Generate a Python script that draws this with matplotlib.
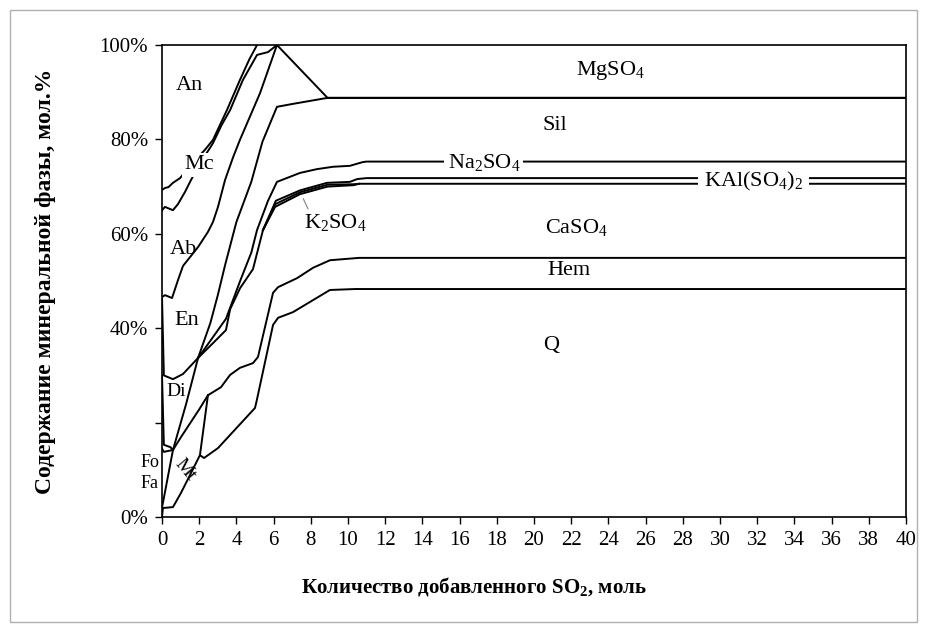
import matplotlib
matplotlib.use('Agg')
import matplotlib.pyplot as plt
from matplotlib.patches import Rectangle

plt.rcParams['font.family'] = ['Liberation Serif', 'DejaVu Serif']
plt.rcParams['mathtext.fontset'] = 'custom'
plt.rcParams['mathtext.rm'] = 'Liberation Serif'
plt.rcParams['mathtext.it'] = 'Liberation Serif:italic'
plt.rcParams['mathtext.bf'] = 'Liberation Serif:bold'

# phase boundaries: cumulative mol.% against added SO2 (mol)
q_x = [0, 0.05, 0.59, 1.02, 2.04, 2.26, 3.01, 5.0, 5.1, 5.97, 6.24, 7.04, 9.03, 10.4, 40]
q_y = [0, 1.9, 2.1, 5.1, 13.1, 12.5, 14.6, 23.1, 24.8, 40.7, 42.2, 43.4, 48.1, 48.3, 48.3]

hem_x = [2.04, 2.47, 3.17, 3.66, 4.19, 4.89, 5.16, 5.97, 6.24, 7.26, 8.12, 9.03, 10.6, 40]
hem_y = [13.1, 25.8, 27.5, 30.1, 31.6, 32.6, 33.9, 47.5, 48.7, 50.6, 52.8, 54.4, 54.9, 54.9]

mt_x = [0, 0.05, 0.59, 1.0, 1.5, 2.0, 2.47]
mt_y = [2.0, 3.0, 14.2, 16.8, 19.8, 22.8, 25.8]

fa_x = [0, 0.1, 0.59]
fa_y = [14.5, 13.8, 14.2]

fo_x = [0, 0.1, 0.45, 0.59]
fo_y = [30.0, 15.3, 14.8, 14.2]

di_x = [0, 0.1, 0.59, 1.13, 1.94]
di_y = [46.6, 30.0, 29.2, 30.3, 33.7]

# rising edge of the new phases, Fa point -> Di kink
new_x = [0.59, 1.3, 1.94]
new_y = [14.2, 24.0, 33.7]

sil_x = [1.94, 2.6, 3.0, 3.4, 4.0, 4.8, 5.4, 6.18, 7.0, 8.9, 40]
sil_y = [33.7, 41.1, 47.0, 53.5, 62.5, 71.0, 79.5, 86.9, 87.5, 88.8, 88.8]

na_x = [1.94, 2.63, 3.44, 4.2, 4.8, 5.11, 5.7, 6.18, 7.42, 8.33, 9.19, 10.1, 10.8, 11.0, 40]
na_y = [33.7, 37.5, 42.0, 50.0, 56.0, 60.8, 67.0, 71.0, 72.9, 73.7, 74.2, 74.4, 75.2, 75.3, 75.3]

caso4_x = [1.94, 2.63, 3.44, 3.66, 4.2, 4.89, 5.43, 6.08, 7.42, 8.9, 10.3, 10.6, 40]
caso4_y = [33.7, 36.4, 39.6, 44.0, 48.5, 52.5, 60.8, 65.7, 68.4, 70.0, 70.3, 70.6, 70.6]

k2so4_x = [5.43, 6.1, 7.42, 8.9, 10.3, 10.6]
k2so4_y = [60.8, 66.3, 68.8, 70.4, 70.5, 70.6]

kal_x = [5.43, 6.12, 7.42, 8.87, 10.1, 10.5, 11.0, 40]
kal_y = [60.8, 67.0, 69.2, 70.8, 71.0, 71.6, 71.8, 71.8]

ab_x = [0, 0.16, 0.54, 0.86, 1.13, 1.94, 2.47, 2.74, 3.01, 3.39, 3.82, 4.19, 5.27, 6.18, 8.9, 40]
ab_y = [46.6, 47.0, 46.4, 50.2, 53.2, 57.2, 60.4, 62.5, 65.7, 71.4, 76.2, 79.9, 89.8, 100, 88.8, 88.8]

mc_x = [0, 0.16, 0.59, 0.86, 1.24, 1.56, 2.05, 2.58, 2.74, 3.2, 3.66, 4.35, 5.11, 5.7, 6.18]
mc_y = [65.0, 65.7, 65.0, 66.3, 68.9, 71.4, 75.0, 78.2, 79.2, 83.0, 86.2, 92.6, 97.9, 98.5, 100]

an_x = [0, 0.16, 0.35, 0.59, 0.97, 1.6, 2.31, 2.74, 3.49, 4.19, 4.7, 5.11]
an_y = [69.3, 69.7, 69.9, 70.8, 71.8, 74.8, 77.8, 79.9, 86.2, 92.6, 97.0, 100]

boundaries = [
    (q_x, q_y), (hem_x, hem_y), (mt_x, mt_y), (fa_x, fa_y), (fo_x, fo_y),
    (di_x, di_y), (new_x, new_y), (sil_x, sil_y), (na_x, na_y),
    (caso4_x, caso4_y), (k2so4_x, k2so4_y), (kal_x, kal_y),
    (ab_x, ab_y), (mc_x, mc_y), (an_x, an_y),
]

fig = plt.figure(figsize=(9.25, 6.32), dpi=100)
ax = fig.add_axes([162 / 925, 1 - 517 / 632, 744 / 925, 472 / 632])

for bx, by in boundaries:
    ax.plot(bx, by, color='black', lw=1.4, solid_joinstyle='round', zorder=2)

ax.set_xlim(0, 40)
ax.set_ylim(0, 100)
ax.set_xticks(range(0, 41, 2))
ax.set_yticks([0, 20, 40, 60, 80, 100])
ax.set_yticklabels(['0%', '', '40%', '60%', '80%', '100%'])
ax.tick_params(axis='both', direction='out', length=5, width=1, labelsize=15, pad=5)
for s in ax.spines.values():
    s.set_linewidth(1.2)

ax.set_xlabel('Количество добавленного SO$_\\mathbf{2}$, моль', fontsize=15,
              fontweight='bold')
ax.xaxis.set_label_coords(0.419, -0.122)
ax.set_ylabel('Содержание минеральной фазы, мол.%', fontsize=17,
              fontweight='bold')
ax.yaxis.set_label_coords(-0.142, 0.5)

lab = dict(fontsize=16, ha='center', va='center', zorder=3)
white = dict(boxstyle='square,pad=0.1', fc='white', ec='none')
ax.text(1.5, 91.5, 'An', **lab)
ax.text(2.0, 74.6, 'Mc', bbox=white, **lab)
ax.text(1.13, 56.6, 'Ab', **lab)
ax.text(1.34, 41.7, 'En', **lab)
ax.text(0.75, 26.5, 'Di', fontsize=14, ha='center', va='center')
ax.text(-0.65, 11.6, 'Fo', fontsize=13, ha='center', va='center', clip_on=False)
ax.text(-0.65, 7.2, 'Fa', fontsize=13, ha='center', va='center', clip_on=False)
ax.text(1.25, 10.0, 'Mt', fontsize=14, ha='center', va='center', rotation=-50)
ax.text(24.1, 94.7, 'MgSO$_4$', **lab)
ax.text(21.1, 83.0, 'Sil', **lab)
ax.text(17.3, 75.2, 'Na$_2$SO$_4$', bbox=dict(boxstyle='square,pad=0.15', fc='white', ec='none'), **lab)
ax.text(31.8, 71.0, 'KAl(SO$_4$)$_2$', bbox=dict(boxstyle='square,pad=0.25', fc='white', ec='none'), **lab)
ax.text(9.3, 62.3, 'K$_2$SO$_4$', **lab)
ax.plot([7.6, 7.85], [67.4, 65.3], color='gray', lw=0.8)
ax.text(22.3, 61.4, 'CaSO$_4$', **lab)
ax.text(21.9, 52.3, 'Hem', **lab)
ax.text(20.9, 36.4, 'Q', **lab)

fig.add_artist(Rectangle((10 / 925, 10 / 632), 907 / 925, 612 / 632, transform=fig.transFigure,
                         fill=False, ec='#b0b0b0', lw=1))

fig.savefig('out.png', dpi=100)
